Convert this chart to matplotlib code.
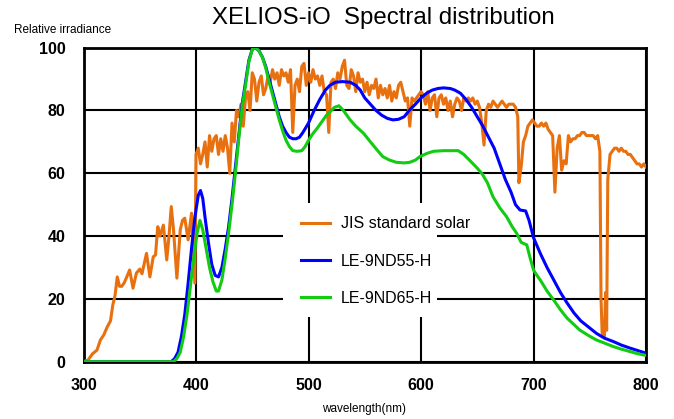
import numpy as np
import matplotlib
matplotlib.use("Agg")
import matplotlib.pyplot as plt
from matplotlib.patches import Rectangle

plt.rcParams['font.family'] = ['Liberation Sans', 'DejaVu Sans']

# JIS standard solar
jis_wl = [300, 304, 308, 312, 315, 318, 321, 324, 326, 328, 330, 332, 334, 336, 338, 341, 344, 347,
          350, 352, 356, 359, 362, 364, 366, 368, 371, 374, 376, 378, 380, 383, 386, 388, 390, 393,
          396, 397, 399, 400, 402, 404, 406, 408, 410, 412, 414, 416, 418, 420, 422, 424, 426, 428,
          430, 432, 434, 436, 438, 440, 442, 444, 446, 448, 450, 452, 454, 456, 458, 460, 462, 464,
          466, 468, 470, 472, 474, 476, 478, 480, 482, 484, 486, 488, 490, 492, 494, 496, 498, 500,
          502, 504, 506, 508, 510, 512, 514, 516, 518, 520, 522, 524, 526, 528, 530, 532, 534, 536,
          538, 540, 542, 544, 546, 548, 550, 552, 554, 556, 558, 560, 562, 564, 566, 568, 570, 572,
          574, 576, 578, 580, 582, 584, 586, 588, 590, 592, 594, 596, 598, 600, 602, 604, 606, 608,
          610, 612, 614, 616, 618, 620, 622, 624, 626, 628, 630, 632, 634, 636, 638, 640, 642, 644,
          646, 648, 650, 652, 654, 656, 658, 660, 662, 664, 666, 668, 670, 672, 674, 676, 678, 680,
          682, 684, 686, 687, 689, 691, 693, 695, 697, 699, 701, 703, 705, 707, 709, 711, 713, 715,
          717, 719, 721, 723, 725, 727, 729, 731, 733, 735, 737, 739, 741, 743, 745, 747, 749, 751,
          753, 755, 757, 759, 760, 761, 763, 764, 765, 766, 768, 770, 772, 774, 776, 778, 780, 782,
          784, 786, 788, 790, 792, 794, 796, 798, 800]
jis_val = [0, 0.5, 2.5, 3.7, 6.9, 8.5, 11, 13, 18, 21, 27, 24, 24, 25, 26.6, 29.2, 23.4, 28.2,
           29.5, 28, 34.5, 27, 33.4, 34, 43, 40, 43.5, 32.4, 40, 49.4, 42, 26.6, 42, 45, 45.7, 38.8,
           47.3, 40, 25, 66, 68, 63, 66, 70, 62, 72, 67, 71, 72, 66, 71, 67, 72, 68,
           60, 76, 70, 80, 78, 82, 75, 84, 86, 80, 92, 90, 83, 89, 91, 85, 87, 91,
           89, 93, 90, 92, 88, 93, 91, 92, 89, 93, 73, 88, 90, 86, 94, 95, 88, 92,
           89, 93, 90, 91, 88, 91, 86, 85, 73, 89, 90, 87, 92, 90, 94, 96, 88, 87,
           93, 91, 86, 92, 89, 90, 86, 89, 85, 88, 87, 90, 84, 88, 85, 87, 84, 88,
           83, 86, 84, 88, 89, 86, 83, 84, 75, 84, 83, 84, 85, 86, 85, 82, 86, 80,
           84, 85, 78, 84, 85, 82, 84, 80, 83, 78, 82, 84, 83, 80, 84, 83, 84, 83,
           84, 82, 83, 81, 76, 69, 80, 82, 81, 83, 82, 81, 82, 83, 82, 81, 82, 82,
           82, 81, 78, 57, 62, 70, 72, 75, 76, 77, 76, 75, 75, 76, 75, 76, 74, 73,
           72, 54, 68, 72, 61, 64, 63, 72, 70, 71, 71, 72, 72, 73, 73, 72, 72, 72,
           72, 71, 72, 67, 20, 9, 8, 22, 10, 58, 66, 67, 68, 68, 67, 68, 67, 67,
           66, 66, 65, 64, 63, 63, 62, 63, 62]

# LE-9ND55-H
le55_wl = [300, 378, 381, 384, 387, 390, 393, 396, 399, 402, 404, 406, 408, 411, 414, 417, 420,
           423, 426, 429, 432, 435, 438, 441, 444, 447, 450, 453, 456, 459, 462, 465, 468, 471,
           474, 477, 480, 483, 486, 489, 492, 495, 500, 505, 510, 515, 519, 524, 530, 537, 542,
           546, 550, 555, 560, 565, 570, 575, 580, 585, 590, 595, 600, 605, 610, 615, 620, 626,
           630, 635, 640, 645, 650, 655, 660, 665, 670, 675, 680, 684, 688, 693, 696, 700, 703,
           706, 712, 718, 724, 730, 736, 742, 749, 756, 763, 771, 778, 786, 793, 800]
le55_val = [0, 0, 1, 3, 8, 15, 25, 36, 46, 53, 54.5, 52, 46, 38, 31, 27.5, 27,
            30, 36, 43, 52, 62, 72, 82, 89, 96, 99.5, 100, 99, 97, 94, 90, 86, 82,
            78, 75, 73, 71.5, 71, 71, 71.5, 73, 76, 80, 83.5, 86.5, 88, 89, 89.2, 89, 88,
            86.5, 84, 82, 80, 78.5, 77.5, 77, 77.2, 78, 80.2, 82, 84, 85.5, 86.5, 87, 87.2, 87,
            86.5, 85.5, 83.5, 81, 78, 75, 71.5, 68, 63, 58, 54, 50, 48.3, 48, 45, 39.5, 37,
            34.5, 30, 26, 22, 18.6, 15.5, 13, 11, 9, 7.5, 6.4, 5.3, 4.3, 3.5, 2.7]

# LE-9ND65-H
le65_wl = [300, 380, 383, 386, 389, 392, 395, 398, 401, 403.5, 406, 409, 412, 415, 418, 420,
           423, 426, 429, 432, 435, 438, 441, 444, 447, 450, 453, 456, 459, 462, 465, 468, 471,
           474, 477, 480, 483, 486, 490, 494, 497, 500, 504, 507, 512, 516, 519, 523, 527, 531,
           537, 542, 549, 555, 561, 566, 572, 578, 585, 590, 595, 599, 605, 611, 620, 627, 633,
           638, 643, 649, 654, 659, 664, 670, 676, 681, 685, 689, 694, 697, 700, 703, 706, 712,
           718, 724, 730, 736, 741, 749, 756, 764, 771, 778, 786, 793, 800]
le65_val = [0, 0, 1, 3, 8, 15, 24, 33, 41, 45, 42, 36, 30, 25.5, 22.5, 22.5,
            26, 33, 41, 50, 60, 71, 81, 88, 95.5, 99.5, 100, 99, 97, 93.5, 89, 85, 81,
            77, 73.5, 70.5, 68.5, 67.2, 67, 67.2, 68.5, 70.5, 72.7, 74, 76.5, 78.5, 79.5, 81, 81.5, 80,
            77, 75, 72.7, 70, 67.4, 65.3, 64.2, 63.5, 63.3, 63.5, 64.2, 65.3, 66.3, 67, 67.2, 67.2, 67.2,
            66, 64.2, 62, 60, 57, 52.5, 49, 46.2, 43, 40.9, 38, 37.2, 33, 29.2, 27.5, 26, 22.5,
            19.6, 16.5, 13.8, 11.8, 10.1, 8.3, 6.9, 5.8, 4.8, 4, 3.2, 2.5, 2]

fig = plt.figure(figsize=(6.74, 4.19), dpi=100)
ax = fig.add_axes([0.1239, 0.1368, 0.8346, 0.7494])

ax.plot(jis_wl, jis_val, color='#E8700F', lw=2.2, label='JIS standard solar', zorder=3)
ax.plot(le55_wl, le55_val, color='#0000FF', lw=2.2, label='LE-9ND55-H', zorder=4)
ax.plot(le65_wl, le65_val, color='#11CC11', lw=2.2, label='LE-9ND65-H', zorder=5)

ax.set_xlim(300, 800)
ax.set_ylim(0, 100)
ax.set_xticks(np.arange(300, 801, 100))
ax.set_yticks(np.arange(0, 101, 20))
ax.grid(True, color='black', lw=1.5)
ax.set_axisbelow(True)
for s in ax.spines.values():
    s.set_linewidth(2)
ax.tick_params(length=0, labelsize=11.5)
ax.tick_params(axis='x', pad=12)
ax.tick_params(axis='y', pad=13)
for lab in ax.get_xticklabels() + ax.get_yticklabels():
    lab.set_fontweight('bold')

# white block behind the legend hides the grid there
ax.add_patch(Rectangle((0.355, 0.142), 0.274, 0.363, transform=ax.transAxes,
                       facecolor='white', edgecolor='none', zorder=2))

leg = ax.legend(loc='upper left', bbox_to_anchor=(0.387, 0.463), fontsize=11.5,
                frameon=False, handlelength=1.8, handletextpad=0.7,
                labelspacing=1.4, borderpad=0, borderaxespad=0)
leg.set_zorder(6)

fig.text(0.568, 0.957, 'XELIOS-iO  Spectral distribution', ha='center', va='center', fontsize=17.3)
fig.text(14 / 674, 1 - 30 / 419, 'Relative irradiance', ha='left', va='center', fontsize=8.5)
fig.text(364 / 674, 1 - 409 / 419, 'wavelength(nm)', ha='center', va='center', fontsize=8.5)

fig.savefig('out.png', dpi=100)
